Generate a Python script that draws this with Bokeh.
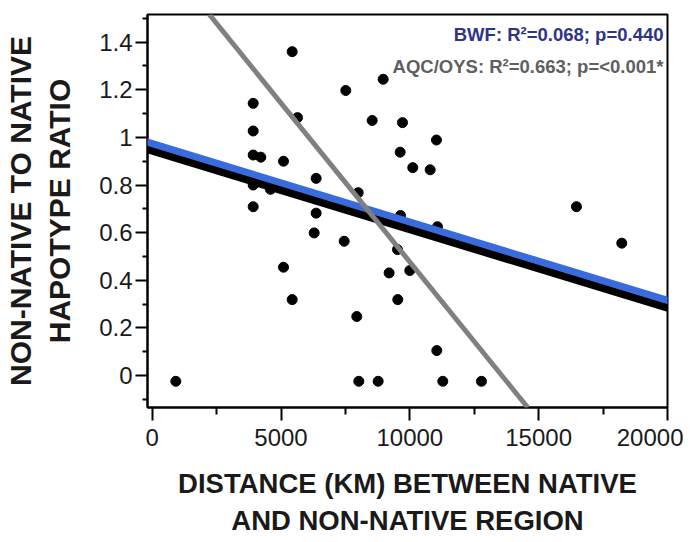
import numpy as np
from bokeh.plotting import figure
from bokeh.models import Slope, Label, FixedTicker, Range1d, ColumnDataSource
from bokeh.embed import file_html
from bokeh.resources import INLINE

# ---- data ----
distance_km = [917, 5434, 3920, 5640, 3920, 3920, 4216, 5097, 3920, 4591,
               3920, 6364, 6364, 6287, 5097, 5434, 7515, 8966, 8539, 9715,
               11034, 9625, 10115, 10790, 7995, 9637, 11073, 7452, 9521, 9197,
               9999, 9533, 7942, 11047, 8020, 8771, 11280, 12781, 16468, 18227]
ratio = [-0.024, 1.360, 1.143, 1.083, 1.027, 0.926, 0.917, 0.900, 0.800, 0.782,
         0.709, 0.828, 0.682, 0.599, 0.455, 0.319, 1.197, 1.244, 1.071, 1.062,
         0.989, 0.938, 0.873, 0.864, 0.768, 0.672, 0.625, 0.564, 0.529, 0.431,
         0.441, 0.319, 0.248, 0.105, -0.024, -0.024, -0.024, -0.024, 0.709, 0.556]

# regression lines: (gradient, intercept)
all_fit = (-3.296e-5, 0.944)
bwf_fit = (-3.29e-5, 0.974)
aqc_oys_fit = (-1.335e-4, 1.812)

bwf_stats = "BWF: R\u00b2=0.068; p=0.440"
aqc_stats = "AQC/OYS: R\u00b2=0.663; p=<0.001*"

x_ticks = [0, 5000, 10000, 15000, 20000]
x_tick_labels = ["0", "5000", "10000", "15000", "20000"]
x_minor = [2500, 7500, 12500, 17500]
y_ticks = [0, 0.2, 0.4, 0.6, 0.8, 1.0, 1.2, 1.4]
y_tick_labels = ["0", "0.2", "0.4", "0.6", "0.8", "1", "1.2", "1.4"]
y_minor = [-0.1, 0.1, 0.3, 0.5, 0.7, 0.9, 1.1, 1.3, 1.5]

x_title = "DISTANCE (KM) BETWEEN NATIVE\nAND NON-NATIVE REGION"
y_title = "NON-NATIVE TO NATIVE\nHAPOTYPE RATIO"

FONT = "Liberation Sans"

p = figure(width=683, height=542,
           x_range=Range1d(-182, 20002), y_range=Range1d(-0.134, 1.516),
           output_backend="svg", toolbar_location=None,
           min_border_left=147, min_border_right=16,
           min_border_top=14, min_border_bottom=135)
p.grid.visible = False
p.outline_line_color = "black"
p.outline_line_width = 2
p.outline_line_alpha = 1
p.background_fill_color = "white"
p.border_fill_color = "white"

src = ColumnDataSource(dict(distance=distance_km, ratio=ratio))
p.scatter(x="distance", y="ratio", source=src, size=10,
          fill_color="black", line_color="black")

p.add_layout(Slope(gradient=all_fit[0], y_intercept=all_fit[1],
                   line_color="black", line_width=8))
p.add_layout(Slope(gradient=bwf_fit[0], y_intercept=bwf_fit[1],
                   line_color="#3a6bdc", line_width=7))
p.add_layout(Slope(gradient=aqc_oys_fit[0], y_intercept=aqc_oys_fit[1],
                   line_color="#808080", line_width=5))

xa = p.xaxis[0]
xa.ticker = FixedTicker(ticks=x_ticks, minor_ticks=x_minor)
xa.major_label_overrides = dict(zip(x_ticks, x_tick_labels))
xa.major_tick_out = 13
xa.major_tick_in = 0
xa.minor_tick_out = 7
xa.minor_tick_in = 0
xa.major_label_standoff = 8
xa.axis_label = x_title
xa.axis_label_standoff = 19
xa.axis_label_text_font_size = "27.5px"
xa.axis_label_text_line_height = 1.2

ya = p.yaxis[0]
ya.ticker = FixedTicker(ticks=y_ticks, minor_ticks=y_minor)
ya.major_label_overrides = dict(zip(y_ticks, y_tick_labels))
ya.major_tick_out = 12
ya.major_tick_in = 0
ya.minor_tick_out = 5
ya.minor_tick_in = 0
ya.major_label_standoff = 3
ya.axis_label = y_title
ya.axis_label_standoff = 20
ya.axis_label_text_font_size = "30px"
ya.axis_label_text_line_height = 1.2

for ax in (xa, ya):
    ax.axis_line_color = "black"
    ax.axis_line_width = 2
    ax.major_tick_line_color = "black"
    ax.major_tick_line_width = 2
    ax.minor_tick_line_color = "black"
    ax.minor_tick_line_width = 2
    ax.major_label_text_font = FONT
    ax.major_label_text_font_size = "24px"
    ax.major_label_text_color = "#1a1a1a"
    ax.axis_label_text_font = FONT
    ax.axis_label_text_font_style = "bold"
    ax.axis_label_text_color = "#1a1a1a"

fw, fh = 520, 393  # frame size in px

p.add_layout(Label(x=fw - 4, y=fh - 20, x_units="screen", y_units="screen",
                   text=bwf_stats, text_align="right", text_baseline="middle",
                   text_font=FONT, text_font_size="18.5px", text_font_style="bold",
                   text_color="#2e3488"))
p.add_layout(Label(x=fw - 4, y=fh - 52, x_units="screen", y_units="screen",
                   text=aqc_stats, text_align="right", text_baseline="middle",
                   text_font=FONT, text_font_size="18.5px", text_font_style="bold",
                   text_color="#5f5f5f"))

open("out.html", "w").write(file_html(p, INLINE))
